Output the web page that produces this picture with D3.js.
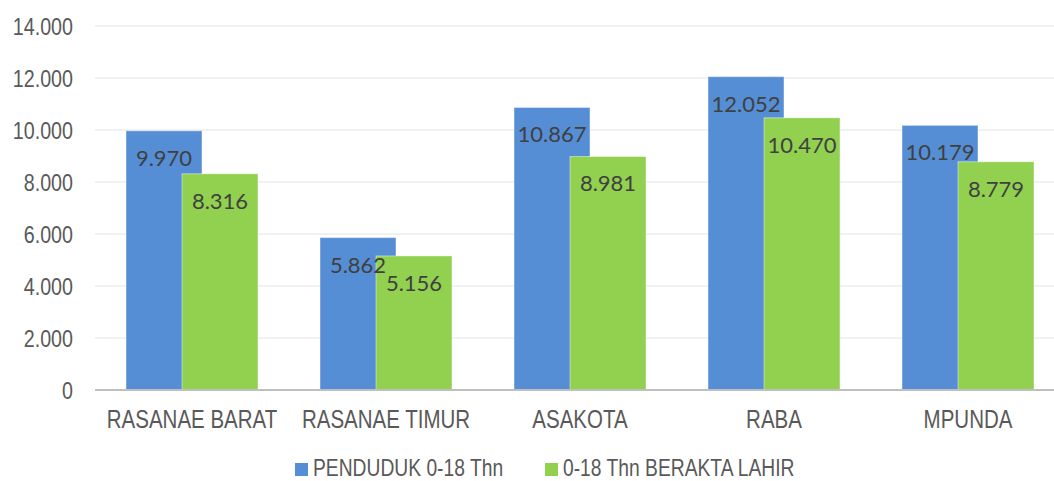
<!DOCTYPE html>
<html>
<head>
<meta charset="utf-8">
<script src="https://cdn.jsdelivr.net/npm/d3@7"></script>
<style>
  html, body { margin: 0; padding: 0; background: #fff; }
  svg { display: block; }
  .axis-text { font-family: "Liberation Sans", Arial, sans-serif; fill: #595959; }
  .value-label { font-family: Lato, "Open Sans", sans-serif; fill: #404040; }
</style>
</head>
<body>
<svg id="chart" width="1054" height="481"></svg>
<script>
// Kecamatan (districts)
const categories = ["RASANAE BARAT", "RASANAE TIMUR", "ASAKOTA", "RABA", "MPUNDA"];
// Series
const seriesNames = ["PENDUDUK 0-18 Thn", "0-18 Thn BERAKTA LAHIR"];
const penduduk = [9970, 5862, 10867, 12052, 10179];
const berakta = [8316, 5156, 8981, 10470, 8779];
const yTicks = [0, 2000, 4000, 6000, 8000, 10000, 12000, 14000];
const seriesColors = ["#558ED5", "#92D050"];

const svg = d3.select("#chart");
const W = 1054;
const narrow = 0.82; // horizontal squeeze for a condensed sans look

const x = d3.scaleBand().domain(categories).range([95, 1065]);
const y = d3.scaleLinear().domain([0, 14000]).range([390, 26]);

// number format with dot as thousands separator
const fmt = d3.formatLocale({ decimal: ",", thousands: ".", grouping: [3], currency: ["", ""] }).format(",d");

// places a condensed text at (px, py)
function placeNarrow(sel, px, py) {
  sel.attr("x", 0).attr("y", 0)
     .attr("transform", (d, i) => `translate(${px(d, i)},${py(d, i)}) scale(${narrow},1)`);
}

// gridlines
svg.append("g").selectAll("line")
  .data(yTicks.filter(d => d > 0))
  .join("line")
  .attr("x1", 95).attr("x2", W)
  .attr("y1", d => y(d)).attr("y2", d => y(d))
  .attr("stroke", "#ececec").attr("stroke-width", 1.5);

// y tick labels
svg.append("g").selectAll("text")
  .data(yTicks)
  .join("text")
  .attr("class", "axis-text")
  .attr("text-anchor", "end")
  .attr("font-size", 24)
  .text(d => fmt(d))
  .call(placeNarrow, () => 73, d => y(d) + 8.5);

const barW = 76, overlap = 20;
const offsets = [-(barW * 2 - overlap) / 2, -(barW * 2 - overlap) / 2 + barW - overlap];
const series = [penduduk, berakta];
const barX = (si, i) => x(categories[i]) + x.bandwidth() / 2 + offsets[si];

// bars
series.forEach((vals, si) => {
  svg.append("g").selectAll("rect")
    .data(vals)
    .join("rect")
    .attr("x", (d, i) => barX(si, i))
    .attr("y", d => y(d))
    .attr("width", barW)
    .attr("height", d => y(0) - y(d))
    .attr("fill", seriesColors[si])
    .attr("stroke", "rgba(255,255,255,0.45)")
    .attr("stroke-width", 1);
});

// value labels, drawn above all bars
series.forEach((vals, si) => {
  svg.append("g").selectAll("text")
    .data(vals)
    .join("text")
    .attr("class", "value-label")
    .attr("x", (d, i) => barX(si, i) + barW / 2)
    .attr("y", d => y(d) + 35)
    .attr("text-anchor", "middle")
    .attr("font-size", 22)
    .text(d => fmt(d));
});

// baseline axis
svg.append("line")
  .attr("x1", 95).attr("x2", W)
  .attr("y1", y(0)).attr("y2", y(0))
  .attr("stroke", "#bfbfbf").attr("stroke-width", 2);

// category labels
svg.append("g").selectAll("text")
  .data(categories)
  .join("text")
  .attr("class", "axis-text")
  .attr("text-anchor", "middle")
  .attr("font-size", 25)
  .text(d => d)
  .call(placeNarrow, d => x(d) + x.bandwidth() / 2, () => 428);

// legend
const legendX = [295, 545];
const legend = svg.append("g");
seriesNames.forEach((name, i) => {
  legend.append("rect")
    .attr("x", legendX[i]).attr("y", 463)
    .attr("width", 13).attr("height", 13)
    .attr("fill", seriesColors[i]);
  legend.append("text")
    .datum(name)
    .attr("class", "axis-text")
    .attr("font-size", 23.5)
    .text(name)
    .call(placeNarrow, () => legendX[i] + 18, () => 476);
});
</script>
</body>
</html>
